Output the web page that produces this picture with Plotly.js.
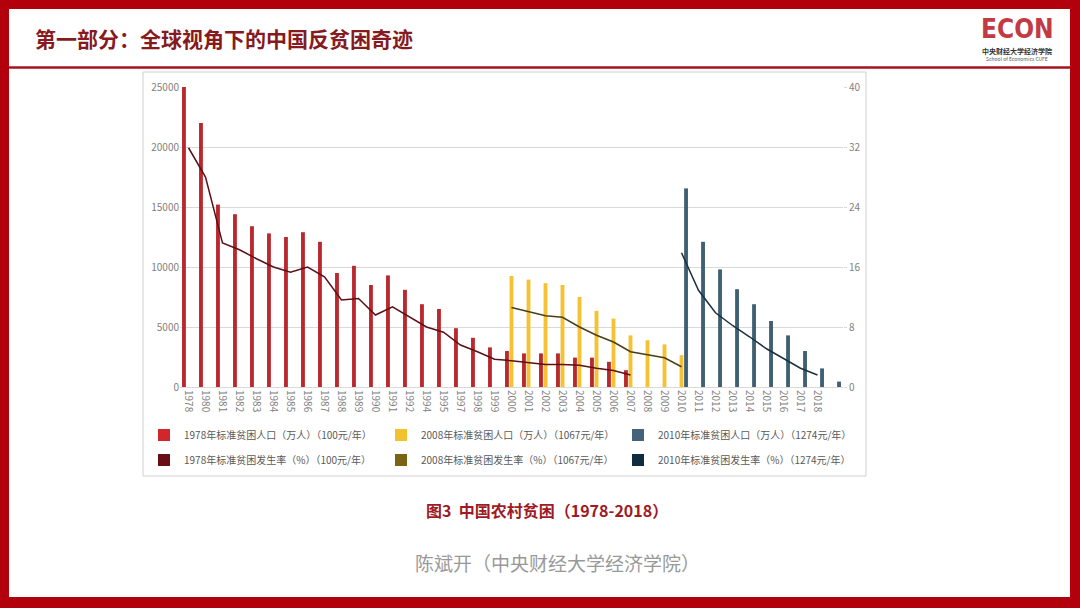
<!DOCTYPE html>
<html>
<head>
<meta charset="utf-8">
<script src="https://cdn.plot.ly/plotly-3.0.1.min.js"></script>
<style>
  html, body { margin: 0; padding: 0; background: #b3000d; }
  #chart { width: 1080px; height: 608px; }
</style>
</head>
<body>
<div id="chart"></div>
<script>
// categories on the x axis (the last one carries no label in the original)
var years = ['1978','1980','1981','1982','1983','1984','1985','1986','1987','1988','1989',
  '1990','1991','1992','1994','1995','1997','1998','1999','2000','2001','2002','2003',
  '2004','2005','2006','2007','2008','2009','2010','2011','2012','2013','2014','2015',
  '2016','2017','2018','2019'];
var yearLabels = years.slice(0, 38).concat(['']);

// 1978 standard (100 yuan / year)
var years1978 = years.slice(0, 27);
var pop1978 = [25000, 22000, 15200, 14400, 13400, 12800, 12500, 12900, 12100, 9500, 10100,
  8500, 9300, 8100, 6900, 6500, 4900, 4100, 3300, 3000, 2800, 2800, 2800, 2450, 2450, 2100, 1400];
var rate1978 = [31.9, 28.0, 19.2, 18.3, 17.1, 16.0, 15.3, 16.0, 14.7, 11.6, 11.8,
  9.6, 10.7, 9.3, 8.0, 7.3, 5.6, 4.7, 3.7, 3.5, 3.2, 3.0, 3.0, 2.9, 2.5, 2.2, 1.6];

// 2008 standard (1067 yuan / year)
var years2008 = years.slice(19, 30);
var pop2008 = [9250, 8950, 8650, 8500, 7500, 6350, 5700, 4300, 3900, 3550, 2650];
var rate2008 = [10.6, 10.0, 9.5, 9.3, 8.0, 6.9, 6.0, 4.7, 4.3, 3.9, 2.7];

// 2010 standard (1274 yuan / year)
var years2010 = years.slice(29, 39);
var pop2010 = [16550, 12100, 9800, 8150, 6900, 5500, 4300, 3000, 1550, 450];
var rate2010 = [17.9, 12.9, 9.9, 8.2, 6.7, 5.1, 3.8, 2.5, 1.6];

var popNames = ['1978年标准贫困人口（万人）（100元/年）',
  '2008年标准贫困人口（万人）（1067元/年）',
  '2010年标准贫困人口（万人）（1274元/年）'];
var rateNames = ['1978年标准贫困发生率（%）（100元/年）',
  '2008年标准贫困发生率（%）（1067元/年）',
  '2010年标准贫困发生率（%）（1274元/年）'];

var barColors = ['#b8282d', '#f4c232', '#3f5f73'];
var lineColors = ['#5c1016', '#4a3f16', '#1c3140'];
var swatchColors = ['#6a0e15', '#7a6412', '#0f2d40'];
var legendBarColors = ['#d0262c', '#f2c12e', '#44627a'];

var FONT = 'Noto Sans CJK SC, sans-serif';

// page pixel -> paper coords (plot area 180..845 x 87..387)
var ML = 180, MR = 237, MT = 87, MB = 221, W = 1080, H = 608;
function px(x) { return (x - ML) / (W - ML - MR); }
function py(y) { return (H - MB - y) / (H - MT - MB); }

var data = [];
var popX = [years1978, years2008, years2010];
var popY = [pop1978, pop2008, pop2010];
for (var i = 0; i < 3; i++) {
  data.push({
    type: 'bar', x: popX[i], y: popY[i], name: popNames[i],
    marker: {color: barColors[i]}, showlegend: false, hoverinfo: 'x+y'
  });
}
var rateX = [years1978, years2008, years2010.slice(0, 9)];
var rateY = [rate1978, rate2008, rate2010];
for (var j = 0; j < 3; j++) {
  data.push({
    type: 'scatter', mode: 'lines', x: rateX[j], y: rateY[j], yaxis: 'y2',
    name: rateNames[j], line: {color: lineColors[j], width: 1.5}, showlegend: false
  });
}
// legend-only entries (square swatches like the original)
for (var k = 0; k < 3; k++) {
  data.push({
    type: 'scatter', mode: 'markers', x: [null], y: [null], yaxis: 'y2',
    name: popNames[k], marker: {symbol: 'square', size: 12, color: legendBarColors[k]},
    legend: 'legend', showlegend: true
  });
}
for (var m = 0; m < 3; m++) {
  data.push({
    type: 'scatter', mode: 'markers', x: [null], y: [null], yaxis: 'y2',
    name: rateNames[m], marker: {symbol: 'square', size: 12, color: swatchColors[m]},
    legend: 'legend2', showlegend: true
  });
}

var legendBase = {
  orientation: 'h', xanchor: 'left', yanchor: 'middle',
  entrywidth: 192, entrywidthmode: 'pixels',
  font: {family: FONT, size: 10, color: '#595959'},
  bgcolor: 'rgba(0,0,0,0)', borderwidth: 0, itemclick: false
};

var layout = {
  width: W, height: H,
  margin: {l: ML, r: MR, t: MT, b: MB, pad: 0},
  paper_bgcolor: '#b3000d',
  plot_bgcolor: 'rgba(0,0,0,0)',
  font: {family: FONT, color: '#7f7f7f'},
  barmode: 'group',
  bargap: 0.2,
  bargroupgap: 0.15,
  showlegend: true,
  xaxis: {
    type: 'category', categoryorder: 'array', categoryarray: years,
    tickvals: years, ticktext: yearLabels, tickangle: 90,
    range: [-0.5, 38.5], tickfont: {size: 10, color: '#7f7f7f'},
    showgrid: false, showline: true, linecolor: '#d9d9d9', linewidth: 1,
    ticks: '', zeroline: false
  },
  yaxis: {
    range: [0, 25000], dtick: 5000, tickformat: 'd',
    gridcolor: '#d9d9d9', gridwidth: 1, zeroline: false, showline: false,
    ticks: '', tickfont: {size: 10, color: '#7f7f7f'}
  },
  yaxis2: {
    overlaying: 'y', side: 'right', range: [0, 40], dtick: 8,
    showgrid: false, zeroline: false, showline: false,
    ticks: 'outside', ticklen: 3, tickcolor: '#d9d9d9',
    tickfont: {size: 10, color: '#7f7f7f'}
  },
  legend: Object.assign({}, legendBase, {x: px(144), y: py(435)}),
  legend2: Object.assign({}, legendBase, {x: px(144), y: py(460)}),
  shapes: [
    {type: 'rect', xref: 'paper', yref: 'paper', x0: px(9), x1: px(1070), y0: py(9), y1: py(597),
      fillcolor: '#ffffff', line: {width: 0}, layer: 'below'},
    {type: 'line', xref: 'paper', yref: 'paper', x0: px(9), x1: px(1070), y0: py(67.5), y1: py(67.5),
      line: {color: '#a3141c', width: 2.5}},
    {type: 'rect', xref: 'paper', yref: 'paper', x0: px(143), x1: px(866), y0: py(72), y1: py(476),
      fillcolor: '#ffffff', line: {color: '#d0d0d0', width: 1}, layer: 'below'}
  ],
  annotations: [
    {xref: 'paper', yref: 'paper', x: px(33), y: py(38), xanchor: 'left', yanchor: 'middle',
      text: '第一部分：全球视角下的中国反贫困奇迹', showarrow: false,
      font: {family: FONT, size: 21, color: '#861a1e', weight: 'bold'}},
    {xref: 'paper', yref: 'paper', x: px(1017), y: py(29), xanchor: 'center', yanchor: 'middle',
      text: 'ECON', showarrow: false,
      font: {family: 'DejaVu Sans Condensed, sans-serif', size: 26, color: '#c23a44', weight: 'bold'}},
    {xref: 'paper', yref: 'paper', x: px(1017), y: py(51), xanchor: 'center', yanchor: 'middle',
      text: '中央财经大学经济学院', showarrow: false,
      font: {family: FONT, size: 7, color: '#333333', weight: 'bold'}},
    {xref: 'paper', yref: 'paper', x: px(1017), y: py(58), xanchor: 'center', yanchor: 'middle',
      text: 'School of Economics CUFE', showarrow: false,
      font: {family: FONT, size: 5, color: '#555555'}},
    {xref: 'paper', yref: 'paper', x: px(547), y: py(510), xanchor: 'center', yanchor: 'middle',
      text: '图3  中国农村贫困（1978-2018）', showarrow: false,
      font: {family: FONT, size: 16, color: '#9e1a24', weight: 'bold'}},
    {xref: 'paper', yref: 'paper', x: px(557), y: py(562), xanchor: 'center', yanchor: 'middle',
      text: '陈斌开（中央财经大学经济学院）', showarrow: false,
      font: {family: FONT, size: 19, color: '#999999'}}
  ]
};

Plotly.newPlot('chart', data, layout, {displayModeBar: false, staticPlot: true});
</script>
</body>
</html>
